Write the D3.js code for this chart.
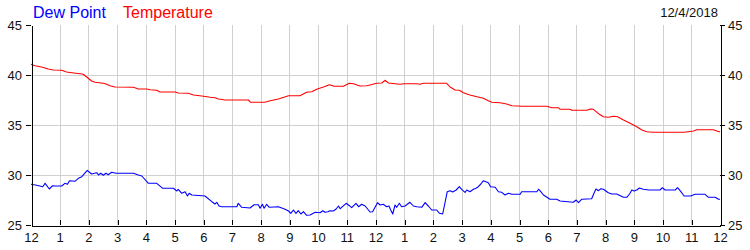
<!DOCTYPE html>
<html>
<head>
<meta charset="utf-8">
<script src="https://cdn.jsdelivr.net/npm/d3@7"></script>
<style>
  body { margin: 0; background: #fff; }
  svg text { font-family: "Liberation Sans", Arial, sans-serif; }
  .grid line { stroke: #d0d0d0; stroke-width: 1px; shape-rendering: crispEdges; }
  .axis path, .axis line { stroke: #000; shape-rendering: crispEdges; }
  .axis text { font-size: 13px; fill: #111; }
</style>
</head>
<body>
<div id="chart"></div>
<script>
var dateLabel = "12/4/2018";
var seriesNames = ["Dew Point", "Temperature"];
var seriesColors = ["#0000ff", "#ff0000"];
var hourTicks = d3.range(0, 25);
var tempTicks = [25, 30, 35, 40, 45];

// dew point: [hour of day, °F]
var dewPoint = [
  [0, 29.07], [0.20, 28.97], [0.41, 28.83], [0.49, 29.17], [0.64, 28.6], [0.75, 28.93],
  [0.84, 28.9], [1.07, 28.9], [1.18, 29.17], [1.27, 29.07], [1.34, 29.43], [1.53, 29.37],
  [1.65, 29.67], [1.77, 29.83], [1.96, 30.47], [2.11, 30.1], [2.29, 30.23], [2.35, 30.0],
  [2.43, 30.17], [2.52, 29.97], [2.61, 30.17], [2.69, 30.03], [2.81, 30.27], [2.96, 30.17],
  [3.57, 30.17], [3.74, 30.0], [3.86, 29.9], [4.09, 29.17], [4.38, 29.17], [4.59, 28.67],
  [4.96, 28.67], [5.08, 28.4], [5.13, 28.57], [5.25, 28.17], [5.37, 28.33], [5.45, 27.9],
  [5.51, 28.17], [5.6, 28.0], [5.95, 27.93], [6.06, 27.9], [6.3, 27.33], [6.41, 27.1],
  [6.47, 27.27], [6.55, 26.9], [6.64, 26.83], [7.17, 26.83], [7.22, 27.17], [7.34, 26.77],
  [7.63, 26.7], [7.77, 27.03], [7.92, 27.03], [7.98, 26.67], [8.06, 27.07], [8.12, 26.67],
  [8.21, 27.07], [8.30, 26.77], [8.62, 26.83], [8.85, 26.57], [8.97, 26.4], [9.05, 26.17],
  [9.14, 26.5], [9.23, 26.17], [9.31, 26.43], [9.40, 26.1], [9.49, 26.33], [9.60, 25.97],
  [9.72, 26.0], [9.90, 26.27], [10.07, 26.23], [10.16, 26.43], [10.24, 26.27], [10.34, 26.33],
  [10.42, 26.43], [10.53, 26.4], [10.63, 26.6], [10.71, 26.9], [10.77, 26.63], [10.98, 27.17],
  [11.09, 26.93], [11.17, 26.73], [11.32, 27.17], [11.41, 26.83], [11.52, 27.07], [11.64, 26.9],
  [11.81, 26.3], [11.90, 26.33], [12.07, 27.23], [12.16, 27.0], [12.27, 27.07], [12.39, 26.83],
  [12.47, 26.9], [12.53, 26.5], [12.6, 26.1], [12.68, 27.0], [12.74, 26.77], [12.83, 27.17],
  [12.91, 26.83], [13.03, 26.9], [13.20, 27.27], [13.32, 26.9], [13.44, 26.83], [13.61, 26.77],
  [13.73, 27.23], [13.84, 26.9], [13.96, 26.5], [14.13, 26.5], [14.23, 26.17], [14.34, 26.1],
  [14.50, 28.33], [14.60, 28.43], [14.69, 28.3], [14.81, 28.5], [14.92, 28.83], [15.0, 28.57],
  [15.12, 28.27], [15.18, 28.5], [15.29, 28.33], [15.41, 28.57], [15.50, 28.67], [15.58, 28.83],
  [15.67, 29.1], [15.76, 29.43], [15.93, 29.23], [16.01, 28.83], [16.17, 28.77], [16.28, 28.33],
  [16.40, 28.27], [16.51, 28.0], [16.63, 28.17], [16.75, 28.07], [17.04, 28.07], [17.09, 28.33],
  [17.62, 28.33], [17.68, 28.57], [17.73, 28.43], [17.85, 28.0], [18.08, 27.57], [18.31, 27.57],
  [18.43, 27.4], [18.89, 27.27], [18.99, 27.5], [19.07, 27.23], [19.18, 27.57], [19.53, 27.63],
  [19.61, 28.17], [19.68, 28.6], [19.77, 28.43], [19.85, 28.63], [19.94, 28.57], [20.11, 28.23],
  [20.23, 28.1], [20.40, 28.1], [20.64, 27.77], [20.75, 27.77], [20.85, 28.1], [20.93, 28.5],
  [21.01, 28.4], [21.10, 28.5], [21.19, 28.7], [21.33, 28.57], [21.51, 28.5], [21.91, 28.5],
  [21.99, 28.73], [22.09, 28.5], [22.44, 28.5], [22.52, 28.73], [22.61, 28.43], [22.75, 27.9],
  [22.98, 27.9], [23.13, 28.07], [23.48, 28.07], [23.60, 27.77], [23.83, 27.77], [23.95, 27.57],
  [24, 27.57]
];

// temperature: [hour of day, °F]
var temperature = [
  [0, 41.07], [0.14, 40.93], [0.37, 40.8], [0.60, 40.6], [0.78, 40.5], [1.07, 40.47],
  [1.24, 40.3], [1.42, 40.23], [1.71, 40.13], [1.82, 40.07], [1.94, 39.8], [2.11, 39.4],
  [2.23, 39.27], [2.52, 39.17], [2.64, 39.07], [2.75, 38.93], [2.93, 38.8], [3.57, 38.77],
  [3.74, 38.6], [4.03, 38.6], [4.15, 38.53], [4.38, 38.47], [4.49, 38.3], [5.02, 38.3],
  [5.13, 38.2], [5.48, 38.17], [5.66, 38.0], [5.95, 37.9], [6.24, 37.77], [6.41, 37.73],
  [6.53, 37.6], [6.76, 37.5], [7.57, 37.5], [7.65, 37.27], [8.15, 37.27], [8.33, 37.43],
  [8.62, 37.6], [8.97, 37.93], [9.37, 37.93], [9.60, 38.27], [9.78, 38.33], [9.95, 38.57],
  [10.19, 38.8], [10.39, 39.03], [10.56, 38.87], [10.88, 38.87], [11.09, 39.17], [11.23, 39.13],
  [11.46, 38.9], [11.69, 38.93], [11.81, 39.0], [12.04, 39.17], [12.22, 39.2], [12.33, 39.47],
  [12.45, 39.2], [12.68, 39.13], [12.86, 39.07], [12.97, 39.13], [13.44, 39.13], [13.55, 39.07],
  [13.67, 39.17], [14.48, 39.17], [14.60, 38.8], [14.77, 38.5], [14.92, 38.47], [15.06, 38.23],
  [15.29, 38.0], [15.53, 37.83], [15.76, 37.67], [15.93, 37.43], [16.05, 37.27], [16.34, 37.23],
  [16.57, 37.1], [16.75, 36.93], [16.98, 36.9], [17.09, 36.87], [17.97, 36.87], [18.14, 36.73],
  [18.37, 36.73], [18.43, 36.57], [18.78, 36.57], [18.84, 36.47], [19.36, 36.47], [19.48, 36.6],
  [19.59, 36.57], [19.77, 36.13], [19.94, 35.83], [20.11, 35.77], [20.29, 35.87], [20.43, 35.83],
  [20.64, 35.5], [20.87, 35.17], [21.10, 34.83], [21.28, 34.5], [21.45, 34.33], [21.68, 34.27],
  [22.73, 34.27], [22.90, 34.33], [23.08, 34.4], [23.19, 34.53], [23.77, 34.53], [23.89, 34.4],
  [24, 34.3]
];

var margin = {top: 25, right: 30, bottom: 25, left: 31},
    width = 750 - margin.left - margin.right,
    height = 250 - margin.top - margin.bottom;

var svg = d3.select("#chart").append("svg")
    .attr("width", 750)
    .attr("height", 250);

var g = svg.append("g")
    .attr("transform", "translate(" + margin.left + "," + margin.top + ")");

var x = d3.scaleLinear().domain([0, 24]).range([0, width]);
var y = d3.scaleLinear().domain([25, 45]).range([height, 0]);

var px = function(v) { return Math.round(v) + 0.5; };

// grid
g.append("g").attr("class", "grid")
    .selectAll("line")
    .data(hourTicks.slice(1, -1))
    .enter().append("line")
    .attr("x1", d => px(x(d))).attr("x2", d => px(x(d)))
    .attr("y1", 0).attr("y2", height);

g.append("g").attr("class", "grid")
    .selectAll("line")
    .data(tempTicks.slice(1, -1))
    .enter().append("line")
    .attr("x1", 0).attr("x2", width)
    .attr("y1", d => px(y(d))).attr("y2", d => px(y(d)));

// series
var line = d3.line()
    .x(d => x(d[0]))
    .y(d => y(d[1]));

[dewPoint, temperature].forEach(function(s, i) {
    g.append("path")
        .datum(s)
        .attr("fill", "none")
        .attr("stroke", seriesColors[i])
        .attr("stroke-width", 1.1)
        .attr("stroke-linejoin", "round")
        .attr("d", line);
});

// axes
var hourFmt = d => String(d % 12 === 0 ? 12 : d % 12);

var xAxis = g.append("g").attr("class", "axis")
    .attr("transform", "translate(0," + height + ")")
    .call(d3.axisBottom(x).tickValues(hourTicks).tickFormat(hourFmt).tickSizeInner(-5).tickSizeOuter(0).tickPadding(8));
xAxis.selectAll(".tick line").attr("transform", "translate(0.5,0)");
xAxis.select(".domain").attr("transform", "translate(0,0.5)");

var yLeft = g.append("g").attr("class", "axis")
    .call(d3.axisLeft(y).tickValues(tempTicks).tickSizeInner(5).tickSizeOuter(0).tickPadding(4));
var yRight = g.append("g").attr("class", "axis")
    .attr("transform", "translate(" + width + ",0)")
    .call(d3.axisRight(y).tickValues(tempTicks).tickSizeInner(5).tickSizeOuter(0).tickPadding(3));
yLeft.select(".domain").attr("transform", "translate(0.5,0)");
yRight.select(".domain").attr("transform", "translate(0.5,0)");

// legend
var legend = svg.append("g");
legend.append("text").attr("x", 33).attr("y", 18)
    .style("font-size", "16px").attr("fill", seriesColors[0]).text(seriesNames[0]);
legend.append("text").attr("x", 123).attr("y", 18)
    .style("font-size", "16px").attr("fill", seriesColors[1]).text(seriesNames[1]);

svg.append("text").attr("x", 718).attr("y", 17)
    .attr("text-anchor", "end")
    .style("font-size", "13px").attr("fill", "#111")
    .text(dateLabel);
</script>
</body>
</html>
